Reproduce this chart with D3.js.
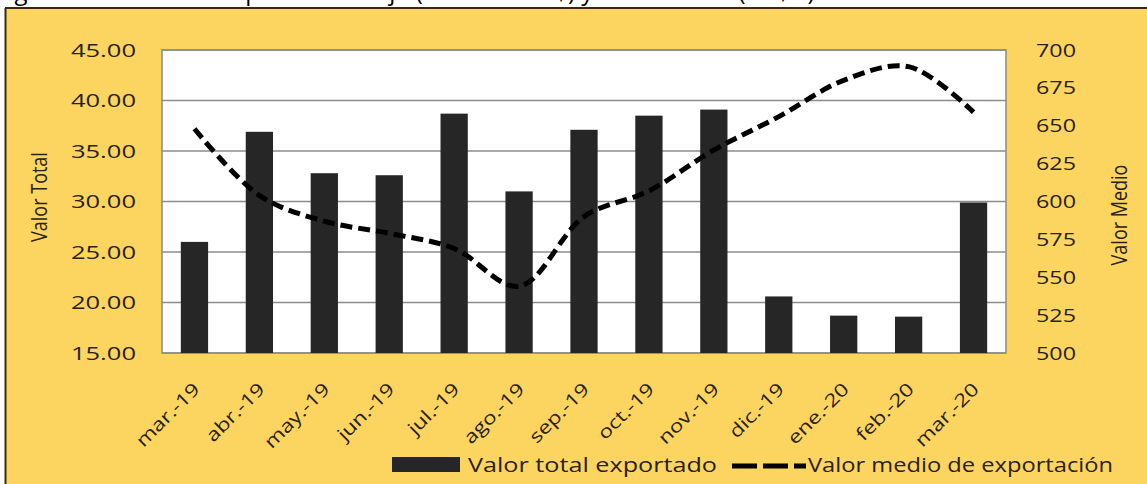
<!DOCTYPE html>
<html>
<head>
<meta charset="utf-8">
<script src="https://cdn.jsdelivr.net/npm/d3@7"></script>
<style>
html,body{margin:0;padding:0;background:#fff;}
svg{display:block;}
</style>
</head>
<body>
<svg id="chart" width="1147" height="484"></svg>
<script>
const categories = ["mar.-19","abr.-19","may.-19","jun.-19","jul.-19","ago.-19","sep.-19","oct.-19","nov.-19","dic.-19","ene.-20","feb.-20","mar.-20"];
const valorTotal = [26.0, 36.9, 32.8, 32.6, 38.7, 31.0, 37.1, 38.5, 39.1, 20.6, 18.7, 18.6, 29.9];
const valorMedio = [648, 604, 587, 579, 569, 544, 590, 607, 634, 656, 680, 689, 659];
const leftTicks = [15, 20, 25, 30, 35, 40, 45];
const rightTicks = [500, 525, 550, 575, 600, 625, 650, 675, 700];
const seriesNames = ["Valor total exportado", "Valor medio de exportación"];
const axisTitles = ["Valor Total", "Valor Medio"];
const titleText = "Figura 2. Valor total exportado de ajo (millones US$) y valor medio (US$/t)";

const svg = d3.select("#chart");
const FONT = "'Open Sans', sans-serif";
const TXT = "#2a2210";
const W = 500;

// title (cut off at top, as in the reference)
svg.append("text").attr("x", -4).attr("y", 0).attr("font-family", FONT)
  .attr("font-size", 24).attr("fill", "#000").text(titleText);

// panel
svg.append("rect").attr("x", 5).attr("y", 8).attr("width", 1150).attr("height", 480)
  .attr("fill", "#FCD560");
svg.append("line").attr("x1", 5).attr("x2", 1147).attr("y1", 8).attr("y2", 8)
  .attr("stroke", "#3a2810").attr("stroke-width", 2);
svg.append("line").attr("x1", 5.5).attr("x2", 5.5).attr("y1", 8).attr("y2", 484)
  .attr("stroke", "#3a2810").attr("stroke-width", 2);

const L = 162, R = 1006, T = 50, B = 353;

const x = d3.scaleBand().domain(categories).range([L, R]).paddingInner(0.58).paddingOuter(0.29);
const yL = d3.scaleLinear().domain([15, 45]).range([B, T]);
const yR = d3.scaleLinear().domain([500, 700]).range([B, T]);

// plot area
svg.append("rect").attr("x", L).attr("y", T).attr("width", R - L).attr("height", B - T)
  .attr("fill", "#fff").attr("stroke", "#8a8a80").attr("stroke-width", 1.5);

// gridlines
svg.append("g").selectAll("line").data(leftTicks).join("line")
  .attr("x1", L).attr("x2", R).attr("y1", d => yL(d)).attr("y2", d => yL(d))
  .attr("stroke", "#8c8c8c").attr("stroke-width", 1.5);

// bars
svg.append("g").selectAll("rect").data(valorTotal).join("rect")
  .attr("x", (d, i) => x(categories[i]))
  .attr("width", x.bandwidth())
  .attr("y", d => yL(d))
  .attr("height", d => yL(15) - yL(d))
  .attr("fill", "#262626");

// line
const line = d3.line()
  .x((d, i) => x(categories[i]) + x.bandwidth() / 2)
  .y(d => yR(d))
  .curve(d3.curveCatmullRom.alpha(0.5));
svg.append("path").datum(valorMedio).attr("d", line)
  .attr("fill", "none").attr("stroke", "#000").attr("stroke-width", 5)
  .attr("stroke-dasharray", "12,6");

// left tick labels
const lt = svg.append("g").selectAll("g").data(leftTicks).join("g")
  .attr("transform", d => `translate(136,${yL(d) + 6.5})`);
lt.append("text").attr("transform", `scale(1.38,1)`).attr("text-anchor", "end")
  .attr("font-family", FONT).attr("font-weight", W).attr("font-size", 18.5).attr("fill", TXT)
  .text(d => d3.format(".2f")(d));

// right tick labels
const rt = svg.append("g").selectAll("g").data(rightTicks).join("g")
  .attr("transform", d => `translate(1036,${yR(d) + 6.5})`);
rt.append("text").attr("transform", `scale(1.26,1)`).attr("text-anchor", "start")
  .attr("font-family", FONT).attr("font-weight", W).attr("font-size", 18.5).attr("fill", TXT)
  .text(d => d);

// x labels
const xl = svg.append("g").selectAll("g").data(categories).join("g")
  .attr("transform", d => `translate(${x(d) + x.bandwidth() / 2 + 2},${B + 33}) rotate(-45)`);
xl.append("text").attr("transform", `scale(1.25,1)`).attr("text-anchor", "end")
  .attr("dy", "0.35em")
  .attr("font-family", FONT).attr("font-weight", W).attr("font-size", 18).attr("fill", TXT)
  .text(d => d);

// axis titles
svg.append("g").attr("transform", "translate(47,197) rotate(-90)")
  .append("text").attr("text-anchor", "middle").attr("transform", `scale(1,1.2)`)
  .attr("font-family", FONT).attr("font-weight", W).attr("font-size", 18).attr("fill", TXT).text(axisTitles[0]);
svg.append("g").attr("transform", "translate(1127,215) rotate(-90)")
  .append("text").attr("text-anchor", "middle").attr("transform", `scale(1,1.2)`)
  .attr("font-family", FONT).attr("font-weight", W).attr("font-size", 18).attr("fill", TXT).text(axisTitles[1]);

// legend
svg.append("rect").attr("x", 392).attr("y", 457).attr("width", 68).attr("height", 15).attr("fill", "#262626");
svg.append("text").attr("x", 468).attr("y", 472)
  .attr("textLength", 249).attr("lengthAdjust", "spacingAndGlyphs")
  .attr("font-family", FONT).attr("font-weight", W).attr("font-size", 20).attr("fill", TXT).text(seriesNames[0]);
svg.append("line").attr("x1", 732).attr("x2", 806).attr("y1", 466).attr("y2", 466)
  .attr("stroke", "#000").attr("stroke-width", 5).attr("stroke-dasharray", "25,6");
svg.append("text").attr("x", 808).attr("y", 472)
  .attr("textLength", 305).attr("lengthAdjust", "spacingAndGlyphs")
  .attr("font-family", FONT).attr("font-weight", W).attr("font-size", 20).attr("fill", TXT).text(seriesNames[1]);
</script>
</body>
</html>
